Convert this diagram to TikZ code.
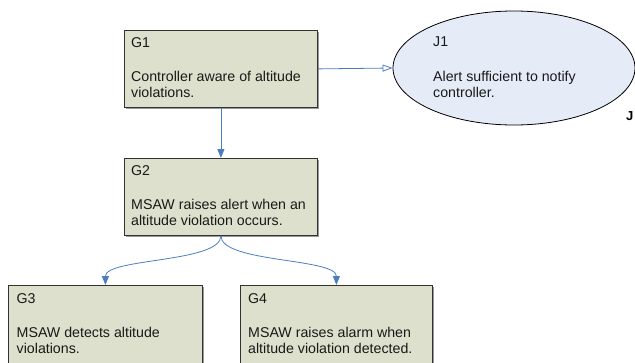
\documentclass[tikz,border=0pt]{standalone}
\usepackage{fontspec}
\setmainfont{Liberation Sans}
\usetikzlibrary{shapes.geometric,arrows.meta}
\definecolor{goalfill}{RGB}{221,224,204}
\definecolor{justfill}{RGB}{230,236,247}
\definecolor{linkblue}{RGB}{74,126,193}
\definecolor{boxline}{RGB}{50,50,50}
\tikzset{
  goal/.style={draw=boxline,line width=0.8pt,fill=goalfill,anchor=north west,inner sep=0pt,
    minimum width=#1,minimum height=77pt},
  shadowbox/.style={fill=black!40,anchor=north west,inner sep=0pt,minimum height=77pt,minimum width=#1},
  just/.style={draw=black,line width=0.8pt,fill=justfill,ellipse,inner sep=0pt,
    minimum width=242pt,minimum height=114pt},
  txt/.style={anchor=base west,inner sep=0pt,align=left,
    font=\fontsize{14.2}{15.8}\selectfont,text=black!90},
  link/.style={draw=linkblue,line width=0.8pt},
  solidtip/.style={link,-{Triangle[length=9pt,width=7pt]},fill=none},
  opentip/.style={link,-{Triangle[open,length=10pt,width=7pt]}}
}
\begin{document}
\begin{tikzpicture}[x=1pt,y=-1pt]
\clip (0,0) rectangle (635,362);
% shadows
\node[shadowbox=193pt] at (125.3,31.3) {};
\node[shadowbox=193pt] at (125.3,159.3) {};
\node[shadowbox=194pt,minimum height=100pt] at (9.3,286.3) {};
\node[shadowbox=192pt,minimum height=100pt] at (241.3,286.3) {};
% goals
\node[goal=193pt] (g1) at (124,30) {};
\node[goal=193pt] (g2) at (124,158) {};
\node[goal=194pt,minimum height=100pt] (g3) at (8,285) {};
\node[goal=192pt,minimum height=100pt] (g4) at (240,285) {};
% justification
\node[just] (j1) at (514,68) {};
% texts (multi-line nodes: base = last line)
\node[txt] (g1id) at (131,47.3) {G1};
\node[txt] (g1t) at (131,97.3) {Controller aware of altitude\\violations.};
\node[txt] (g2id) at (131,175) {G2};
\node[txt] (g2t) at (131,225.7) {MSAW raises alert when an\\altitude violation occurs.};
\node[txt] (g3id) at (16.5,303) {G3};
\node[txt] (g3t) at (16.5,353.3) {MSAW detects altitude\\violations.};
\node[txt] (g4id) at (248,303) {G4};
\node[txt] (g4t) at (248,353.3) {MSAW raises alarm when\\altitude violation detected.};
\node[txt] (j1id) at (433,46.7) {J1};
\node[txt] (j1t) at (433,97.3) {Alert sufficient to notify\\controller.};
\node[anchor=base west,inner sep=0pt,font=\fontsize{13}{14}\selectfont\bfseries] (jlab) at (626,120.7) {J};
% connectors
\draw[opentip] (g1.east) -- (j1.west);
\draw[solidtip] (g1.south) -- (g2.north);
\draw[solidtip] (g2.south) .. controls +(0,27) and +(0,-27) .. (g3.north);
\draw[solidtip] (g2.south) .. controls +(0,27) and +(0,-27) .. (g4.north);
\end{tikzpicture}
\end{document}
